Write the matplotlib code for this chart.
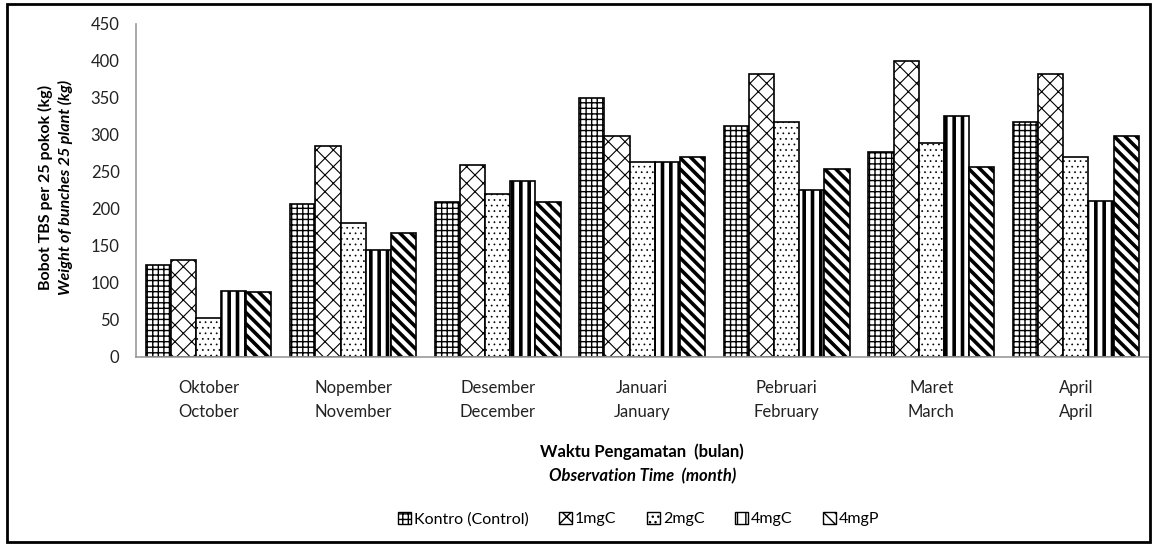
import matplotlib.pyplot as plt
import numpy as np
from matplotlib.patches import Rectangle

plt.rcParams['font.family'] = ['Lato', 'DejaVu Sans']

# data
months = ['Oktober\nOctober', 'Nopember\nNovember', 'Desember\nDecember',
          'Januari\nJanuary', 'Pebruari\nFebruary', 'Maret\nMarch', 'April\nApril']
series = ['Kontro (Control)', '1mgC', '2mgC', '4mgC', '4mgP']
kontro = [124, 207, 209, 350, 312, 277, 318]
mg1c = [131, 285, 260, 298, 383, 400, 383]
mg2c = [53, 181, 220, 263, 318, 289, 270]
mg4c = [89, 145, 238, 263, 225, 326, 211]
mg4p = [88, 168, 209, 270, 254, 256, 299]
values = [kontro, mg1c, mg2c, mg4c, mg4p]
hatches = ['+++', 'xx', '...', '||', '\\\\\\']
hatch_lw = [1.0, 0.8, 0.5, 2.6, 2.6]

fig = plt.figure(figsize=(11.55, 5.44), dpi=100)
ax = fig.add_axes([0.118, 0.344, 0.876, 0.612])

x = np.arange(len(months))
w = 0.174
handles = []
for i, (name, vals) in enumerate(zip(series, values)):
    # patches pick up the hatch linewidth when they are created
    plt.rcParams['hatch.linewidth'] = hatch_lw[i]
    bars = ax.bar(x + (i - 2) * w, vals, w, facecolor='white', edgecolor='black',
                  linewidth=1.2, hatch=hatches[i], label=name)
    handles.append(Rectangle((0, 0), 1, 1, facecolor='white', edgecolor='black',
                             linewidth=1.0, hatch=hatches[i], label=name))

ax.set_xlim(-0.5, 6.5)
ax.set_ylim(0, 450)
ax.set_yticks(np.arange(0, 451, 50))
ax.set_xticks(x)
ax.set_xticklabels(months, fontsize=12, linespacing=1.55)
ax.tick_params(axis='both', length=0, labelsize=12, colors='#222222')
ax.tick_params(axis='x', pad=17)
ax.tick_params(axis='y', pad=12)
for s in ['top', 'right']:
    ax.spines[s].set_visible(False)
for s in ['left', 'bottom']:
    ax.spines[s].set_color('#999999')
    ax.spines[s].set_linewidth(1.2)

# axis titles
fig.text(0.039, 0.656, 'Bobot TBS per 25 pokok (kg)', rotation=90, ha='center',
         va='center', fontsize=11.5, fontweight='bold')
fig.text(0.057, 0.656, 'Weight of bunches 25 plant (kg)', rotation=90, ha='center',
         va='center', fontsize=11.5, fontweight='bold', style='italic')
fig.text(0.556, 0.170, 'Waktu Pengamatan  (bulan)', ha='center', va='center',
         fontsize=12, fontweight='bold')
fig.text(0.556, 0.124, 'Observation Time  (month)', ha='center', va='center',
         fontsize=12, fontweight='bold', style='italic')

plt.rcParams['hatch.linewidth'] = 1.0
leg = fig.legend(handles=handles, loc='center', bbox_to_anchor=(0.553, 0.046), ncol=5,
                 frameon=False, fontsize=11.5, handlelength=0.8, handleheight=0.8,
                 handletextpad=0.2, columnspacing=1.9)

# figure border
fig.patches.append(Rectangle((0.006, 0.004), 0.99, 0.988, transform=fig.transFigure,
                             fill=False, edgecolor='black', linewidth=2))

fig.savefig('out.png', dpi=100)
